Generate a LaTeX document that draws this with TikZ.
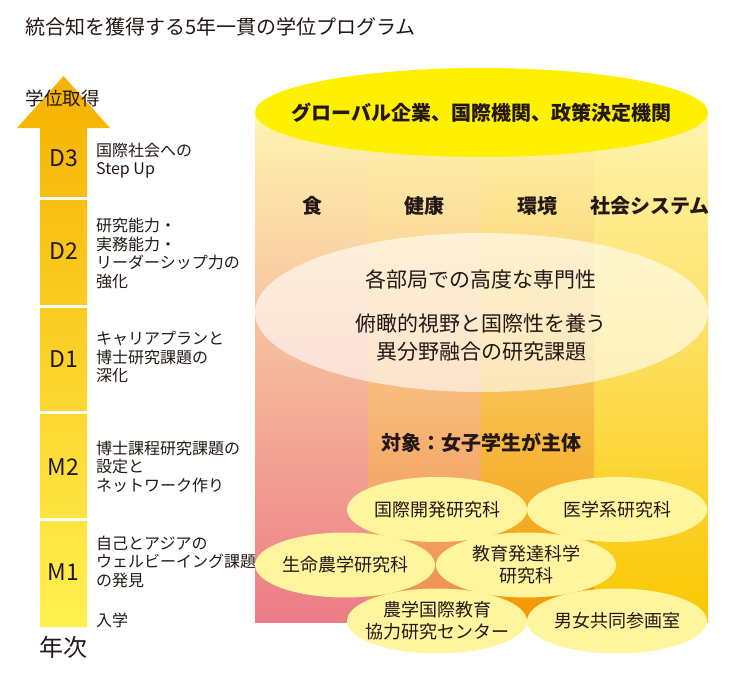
\documentclass[tikz,border=0pt]{standalone}
\usepackage{fontspec}
\setmainfont{Noto Sans CJK JP}
\usepackage{xcolor}
\usetikzlibrary{shapes.geometric}
\definecolor{ink}{HTML}{231815}
\definecolor{pale}{HTML}{FFF4B0}
\definecolor{stripA}{HTML}{EC7B86}
\definecolor{stripB}{HTML}{F08C50}
\definecolor{stripC}{HTML}{F39800}
\definecolor{stripD}{HTML}{FAC700}
\definecolor{goalyellow}{HTML}{FFF000}
\definecolor{deptyellow}{HTML}{FFF59E}
\definecolor{arrtop}{HTML}{F6B100}
\definecolor{arrbot}{HTML}{FFF150}

\begin{document}
\begin{tikzpicture}[x=1pt,y=-1pt,
  desc/.style={anchor=west,align=left,inner sep=0pt,text=ink,font=\fontsize{16}{18.5}\selectfont},
  yr/.style={inner sep=0pt,text=ink,font=\fontsize{23}{23}\selectfont},
  field/.style={inner sep=0pt,text=ink,font=\bfseries\fontsize{20}{20}\selectfont},
  dept/.style={ellipse,fill=deptyellow,minimum width=180,minimum height=65,inner sep=0pt},
  depttext/.style={inner sep=0pt,text=ink,align=center,font=\fontsize{18}{22}\selectfont}]
\useasboundingbox (0,0) rectangle (732,680);
\node[anchor=west,inner sep=0pt,text=ink,font=\fontsize{20}{20}\selectfont] (title) at (25,27) {統合知を獲得する5年一貫の学位プログラム};

% years arrow
\shade[top color=arrtop,bottom color=arrbot] (40,627) -- (40,128) -- (17,128) -- (63.5,76) -- (110,128) -- (87,128) -- (87,627) -- cycle;
\foreach \y in {198.5,306,412.5,519.5}
  \draw[white,line width=3pt] (38,\y) -- (89,\y);
\node[inner sep=0pt,text=ink,font=\fontsize{18.5}{19}\selectfont] (degree) at (63,98.5) {学位取得};
\node[yr] (D3) at (63.5,158) {D3};
\node[yr] (D2) at (63.5,251.5) {D2};
\node[yr] (D1) at (63.5,359) {D1};
\node[yr] (M2) at (63.5,467.5) {M2};
\node[yr] (M1) at (63.5,572.5) {M1};
\node[inner sep=0pt,text=ink,font=\fontsize{24}{24}\selectfont] (nenji) at (63.5,647) {年次};

\node[desc] (dD3) at (96,160.5) {国際社会への\\Step Up};
\node[desc] (dD2) at (96,253.5) {研究能力・\\実務能力・\\リーダーシップ力の\\強化};
\node[desc] (dD1) at (96,357) {キャリアプランと\\博士研究課題の\\深化};
\node[desc] (dM2) at (96,466.5) {博士課程研究課題の\\設定と\\ネットワーク作り};
\node[desc] (dM1) at (96,561.5) {自己とアジアの\\ウェルビーイング課題\\の発見};
\node[desc] (entry) at (96,620) {入学};

% cylinder
\shade[top color=pale,bottom color=stripA] (255,112) rectangle (368,622);
\shade[top color=pale,bottom color=stripB] (368,112) rectangle (481,622);
\shade[top color=pale,bottom color=stripC] (481,112) rectangle (594,622);
\shade[top color=pale,bottom color=stripD] (594,112) rectangle (708,622);
\node[ellipse,fill=white,fill opacity=0.6,minimum width=453,minimum height=159,inner sep=0pt] (core) at (481.5,312.5) {};
\node[ellipse,fill=goalyellow,minimum width=453,minimum height=89,inner sep=0pt] (goal) at (481.5,112.5) {};
\node[inner sep=0pt,text=ink,font=\bfseries\fontsize{20}{20}\selectfont] (goalT) at (goal) {グローバル企業、国際機関、政策決定機関};

\node[field] (food) at (312,206) {食};
\node[field] (health) at (424,206) {健康};
\node[field] (env) at (537.5,206) {環境};
\node[field] (soc) at (650,206) {社会システム};

\node[inner sep=0pt,text=ink,font=\fontsize{21}{21}\selectfont] (expert) at (481,279) {各部局での高度な専門性};
\node[inner sep=0pt,align=center,text=ink,font=\fontsize{21}{28}\selectfont] (fusion) at (481,338) {俯瞰的視野と国際性を養う\\異分野融合の研究課題};
\node[field] (target) at (481,443) {対象：女子学生が主体};

% departments
\node[dept] (intdev) at (437,509.5) {};
\node[dept] (med) at (617,509.5) {};
\node[dept] (agri) at (345,565) {};
\node[dept] (edu) at (526,565) {};
\node[dept] (iccae) at (437,621) {};
\node[dept] (gender) at (617,621) {};
\node[depttext] (intdevT) at (intdev) {国際開発研究科};
\node[depttext] (medT) at (med) {医学系研究科};
\node[depttext] (agriT) at (agri) {生命農学研究科};
\node[depttext] (eduT) at (edu) {教育発達科学\\研究科};
\node[depttext] (iccaeT) at (iccae) {農学国際教育\\協力研究センター};
\node[depttext] (genderT) at (gender) {男女共同参画室};
\end{tikzpicture}
\end{document}
